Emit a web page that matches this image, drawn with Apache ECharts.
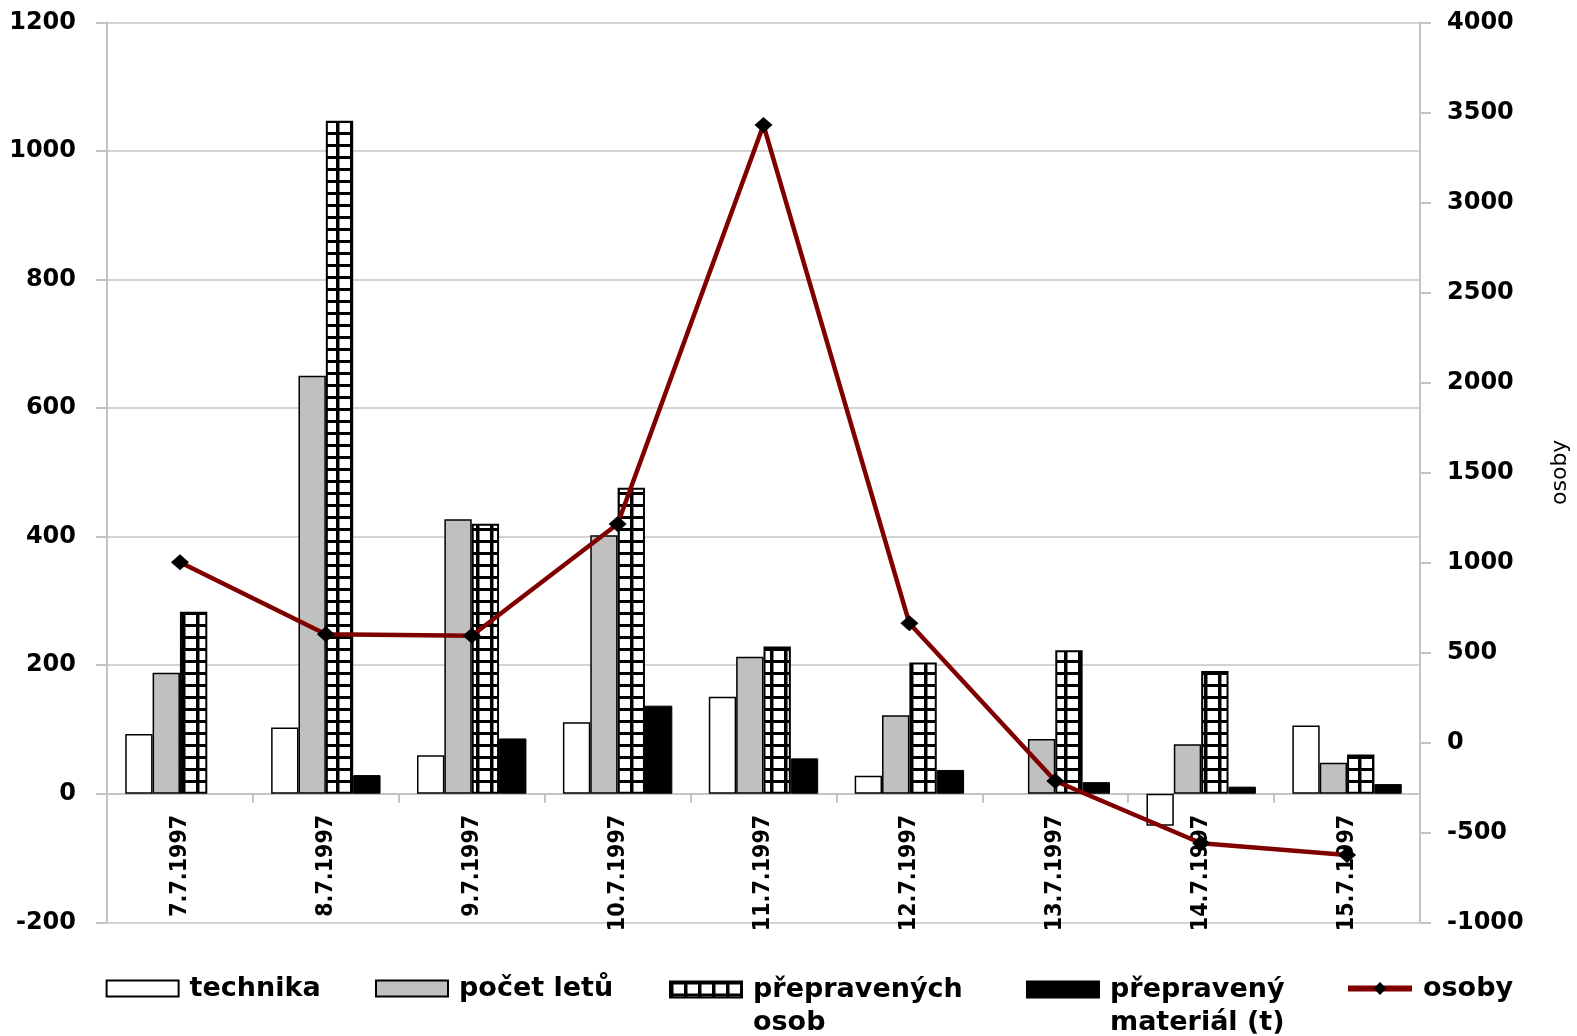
<!DOCTYPE html>
<html>
<head>
<meta charset="utf-8">
<script src="https://cdn.jsdelivr.net/npm/echarts@6/dist/echarts.min.js"></script>
<style>
html,body{margin:0;padding:0;background:#fff;}
#chart{width:1577px;height:1036px;}
</style>
</head>
<body>
<div id="chart"></div>
<script>
// ---- data ----
var categories = ['7.7.1997','8.7.1997','9.7.1997','10.7.1997','11.7.1997','12.7.1997','13.7.1997','14.7.1997','15.7.1997'];
var technika = [93, 103, 60, 111, 151, 28, null, -50, 106];
var pocetLetu = [188, 650, 427, 402, 213, 122, 85, 77, 48];
var prepravenychOsob = [283, 1047, 420, 476, 229, 204, 223, 191, 61];
var prepravenyMaterial = [null, 29, 86, 137, 55, 37, 18, 11, 15];
var osoby = [1000, 600, 592, 1213, 3429, 661, -215, -561, -626];
var leftTicks = {min: -200, max: 1200, interval: 200};
var rightTicks = {min: -1000, max: 4000, interval: 500};
var seriesNames = ['technika', 'počet letů', 'přepravených osob', 'přepravený materiál (t)', 'osoby'];

// grid-pattern fill for the "přepravených osob" bars
var pat = document.createElement('canvas');
pat.width = 14; pat.height = 12;
var pc = pat.getContext('2d');
pc.fillStyle = '#ffffff'; pc.fillRect(0, 0, 14, 12);
pc.fillStyle = '#000000';
pc.fillRect(0, 0, 3.5, 12);
pc.fillRect(0, 0, 14, 3);

var FONT = 'DejaVu Sans';
var NARROW = '"DejaVu Sans Condensed", "DejaVu Sans", sans-serif';
var gridColor = '#c4c4c4';
var GRID = {left: 107, right: 157, top: 22.3, bottom: 113.7};
var plotHeight = 1036 - GRID.top - GRID.bottom;
// move the category axis (line, ticks, labels) up to the value 0 of the left axis
var zeroOffset = -plotHeight * (0 - leftTicks.min) / (leftTicks.max - leftTicks.min);

var chart = echarts.init(document.getElementById('chart'), null, {renderer: 'canvas'});

function legendFor(name, left, multi, isLine) {
  var lg = {
    data: [name],
    left: left,
    top: multi ? 940 : 972,
    padding: 0,
    orient: 'horizontal',
    itemWidth: isLine ? 64 : 72,
    itemHeight: 16,
    formatter: function (n) {
      if (n === 'přepravených osob') return '\npřepravených\nosob';
      if (n === 'přepravený materiál (t)') return '\npřepravený\nmateriál (t)';
      return n;
    },
    textStyle: {
      fontFamily: FONT, fontWeight: 'bold', fontSize: 27, color: '#000',
      lineHeight: 33, padding: [0, 0, 0, 6]
    },
    selectedMode: false
  };
  if (!isLine) {
    lg.icon = 'rect';
  } else {
    lg.lineStyle = {width: 6, color: '#800000'};
  }
  return lg;
}

function plain(v) { return String(v); }

var option = {
  animation: false,
  backgroundColor: '#ffffff',
  grid: {left: GRID.left, right: GRID.right, top: GRID.top, bottom: GRID.bottom, containLabel: false, outerBoundsMode: 'none'},
  legend: [
    legendFor(seriesNames[0], 105.6, false, false),
    legendFor(seriesNames[1], 375, false, false),
    legendFor(seriesNames[2], 669, true, false),
    legendFor(seriesNames[3], 1026, true, false),
    legendFor(seriesNames[4], 1345, false, true)
  ],
  xAxis: {
    type: 'category',
    data: categories,
    boundaryGap: true,
    offset: zeroOffset,
    axisLine: {show: true, onZero: false, lineStyle: {color: gridColor, width: 2}},
    axisTick: {show: true, alignWithLabel: false, interval: 0, length: 9, lineStyle: {color: gridColor, width: 2}},
    axisLabel: {
      interval: 0, rotate: 90, margin: 21,
      fontFamily: NARROW, fontWeight: 'bold', fontSize: 23, color: '#000'
    },
    splitLine: {show: false}
  },
  yAxis: [
    {
      type: 'value',
      position: 'left',
      min: leftTicks.min, max: leftTicks.max, interval: leftTicks.interval,
      axisLine: {show: true, lineStyle: {color: gridColor, width: 2}},
      axisTick: {show: true, length: 11, lineStyle: {color: gridColor, width: 2}},
      axisLabel: {margin: 31, formatter: plain, fontFamily: FONT, fontWeight: 'bold', fontSize: 24, color: '#000'},
      splitLine: {show: true, lineStyle: {color: gridColor, width: 1.5}}
    },
    {
      type: 'value',
      position: 'right',
      min: rightTicks.min, max: rightTicks.max, interval: rightTicks.interval,
      name: 'osoby',
      nameLocation: 'middle',
      nameRotate: 90,
      nameGap: 129,
      nameTextStyle: {fontFamily: FONT, fontSize: 22, color: '#000'},
      axisLine: {show: true, lineStyle: {color: gridColor, width: 2}},
      axisTick: {show: true, length: 11, lineStyle: {color: gridColor, width: 2}},
      axisLabel: {margin: 27, formatter: plain, fontFamily: FONT, fontWeight: 'bold', fontSize: 24, color: '#000'},
      splitLine: {show: false}
    }
  ],
  series: [
    {
      name: seriesNames[0], type: 'bar', data: technika,
      barGap: '0%', barCategoryGap: '25%',
      itemStyle: {color: '#ffffff', borderColor: '#000', borderWidth: 1.5}
    },
    {
      name: seriesNames[1], type: 'bar', data: pocetLetu,
      itemStyle: {color: '#c0c0c0', borderColor: '#000', borderWidth: 1.5}
    },
    {
      name: seriesNames[2], type: 'bar', data: prepravenychOsob,
      itemStyle: {color: {image: pat, repeat: 'repeat'}, borderColor: '#000', borderWidth: 2}
    },
    {
      name: seriesNames[3], type: 'bar', data: prepravenyMaterial,
      itemStyle: {color: '#000000', borderColor: '#000', borderWidth: 1}
    },
    {
      name: seriesNames[4], type: 'line', yAxisIndex: 1, data: osoby,
      z: 5,
      symbol: 'diamond', symbolSize: [18, 16],
      itemStyle: {color: '#000000', borderWidth: 0},
      lineStyle: {color: '#800000', width: 4.5}
    }
  ]
};
chart.setOption(option);
</script>
</body>
</html>
